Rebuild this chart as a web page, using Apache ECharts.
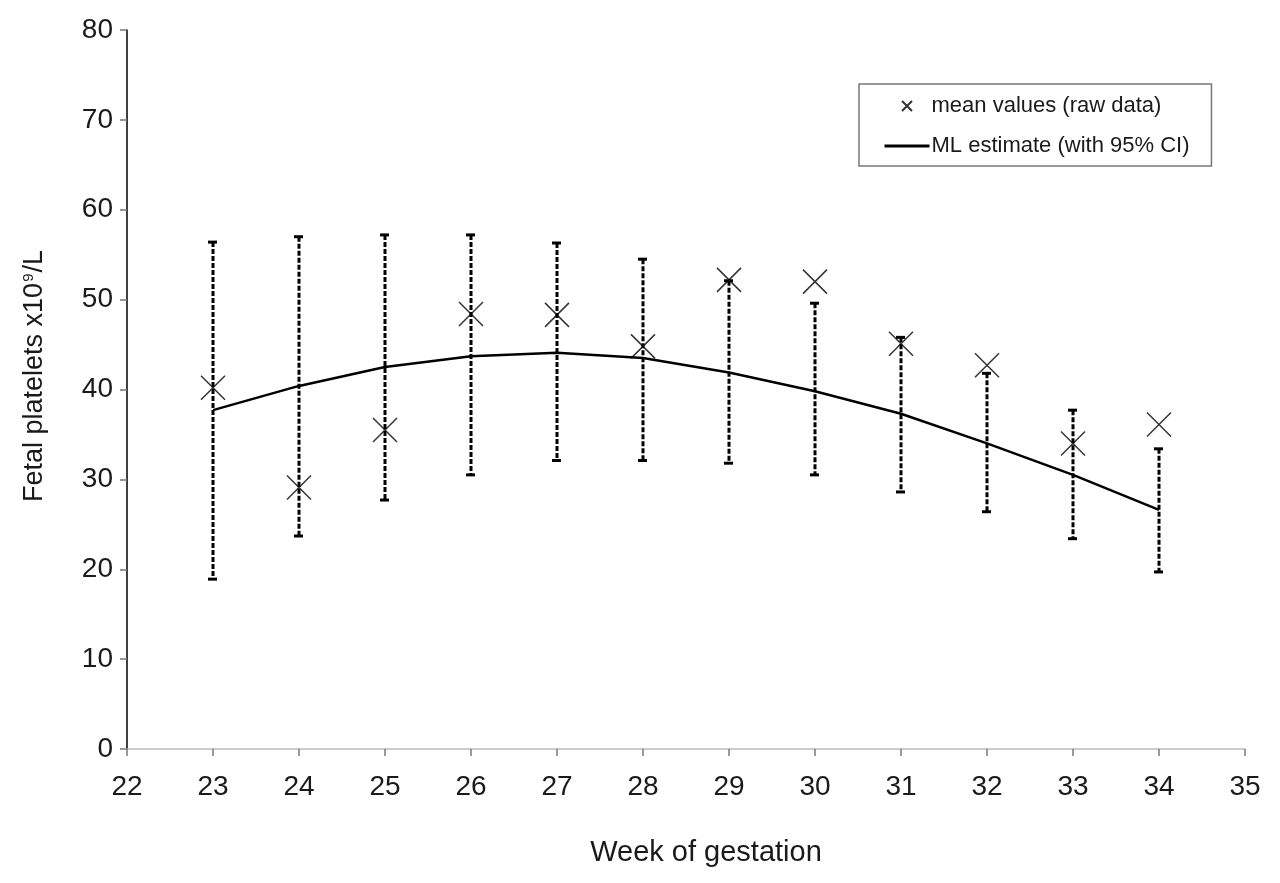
<!DOCTYPE html>
<html>
<head>
<meta charset="utf-8">
<script src="https://cdn.jsdelivr.net/npm/echarts@6/dist/echarts.min.js"></script>
<style>
  html, body { margin: 0; padding: 0; background: #fff; }
  #chart { width: 1280px; height: 883px; }
</style>
</head>
<body>
<div id="chart"></div>
<script>
// ---- data ----
const weeks = [23, 24, 25, 26, 27, 28, 29, 30, 31, 32, 33, 34];
const meanValues = [40.2, 29.1, 35.5, 48.4, 48.3, 44.8, 52.2, 52.0, 45.1, 42.7, 34.0, 36.1];
const mlEstimate = [37.7, 40.4, 42.5, 43.7, 44.1, 43.5, 41.9, 39.8, 37.3, 34.0, 30.5, 26.6];
const ciLower = [18.9, 23.7, 27.7, 30.5, 32.1, 32.1, 31.8, 30.5, 28.6, 26.4, 23.4, 19.7];
const ciUpper = [56.4, 57.0, 57.2, 57.2, 56.3, 54.5, 52.1, 49.6, 45.8, 41.8, 37.7, 33.4];
const xTicks = { min: 22, max: 35, interval: 1 };
const yTicks = { min: 0, max: 80, interval: 10 };
const seriesNames = ['mean values (raw data)', 'ML estimate (with 95% CI)'];
const xTitle = 'Week of gestation';

const FONT = '"Liberation Sans", Arial, sans-serif';
const crossPath = 'path://M0,0L10,10M10,0L0,10';

const chart = echarts.init(document.getElementById('chart'));

const errData = weeks.map((w, i) => [w, ciLower[i], ciUpper[i]]);
const meanData = weeks.map((w, i) => [w, meanValues[i]]);
const mlData = weeks.map((w, i) => [w, mlEstimate[i]]);

function renderErr(params, api) {
  const x = api.value(0);
  const lo = api.value(1);
  const hi = api.value(2);
  const pt = api.coord([x, hi]);
  const pb = api.coord([x, lo]);
  const st = { stroke: '#000', lineWidth: 3, fill: 'none' };
  return {
    type: 'group',
    children: [
      { type: 'line', shape: { x1: pt[0], y1: pt[1], x2: pb[0], y2: pb[1] },
        style: Object.assign({}, st, { lineDash: [5, 2] }) },
      { type: 'line', shape: { x1: pt[0] - 5, y1: pt[1], x2: pt[0] + 4, y2: pt[1] }, style: st },
      { type: 'line', shape: { x1: pb[0] - 5, y1: pb[1], x2: pb[0] + 4, y2: pb[1] }, style: st }
    ]
  };
}

const option = {
  backgroundColor: '#fff',
  animation: false,
  textStyle: { fontFamily: FONT },
  grid: { left: 127, right: 35, top: 30, bottom: 134, containLabel: false },
  xAxis: {
    type: 'value',
    min: xTicks.min, max: xTicks.max, interval: xTicks.interval,
    axisLine: { show: true, onZero: false, lineStyle: { color: '#bbbbbb', width: 1.5 } },
    axisTick: { show: true, inside: false, length: 7, lineStyle: { color: '#777', width: 1.5 } },
    axisLabel: { color: '#1a1a1a', fontSize: 28, margin: 24, fontFamily: FONT },
    splitLine: { show: false }
  },
  yAxis: {
    type: 'value',
    min: yTicks.min, max: yTicks.max, interval: yTicks.interval,
    axisLine: { show: true, lineStyle: { color: '#000', width: 1.5 } },
    axisTick: { show: true, inside: false, length: 7, lineStyle: { color: '#777', width: 1.5 } },
    axisLabel: { color: '#1a1a1a', fontSize: 28, margin: 14, fontFamily: FONT },
    splitLine: { show: false }
  },
  legend: {
    orient: 'vertical',
    left: 859, top: 84,
    padding: [11, 22, 9, 24],
    itemGap: 18,
    itemWidth: 45,
    itemHeight: 10,
    borderColor: '#777',
    borderWidth: 1.5,
    borderRadius: 0,
    backgroundColor: '#fff',
    selectedMode: false,
    textStyle: { color: '#1a1a1a', fontSize: 22, fontFamily: FONT, padding: [0, 0, 0, -3] },
    data: [
      { name: seriesNames[0], icon: crossPath,
        itemStyle: { color: 'none', borderColor: '#000', borderWidth: 2 } },
      { name: seriesNames[1], itemStyle: { opacity: 0 }, lineStyle: { color: '#000', width: 3 } }
    ]
  },
  series: [
    {
      name: 'CI',
      type: 'custom',
      renderItem: renderErr,
      encode: { x: 0, y: [1, 2] },
      data: errData,
      z: 2,
      silent: true
    },
    {
      name: seriesNames[1],
      type: 'line',
      data: mlData,
      symbol: 'none',
      showSymbol: false,
      smooth: false,
      lineStyle: { color: '#000', width: 2.5 },
      itemStyle: { color: '#000' },
      z: 3
    },
    {
      name: seriesNames[0],
      type: 'scatter',
      data: meanData,
      symbol: crossPath,
      symbolSize: 24,
      itemStyle: { color: 'none', borderColor: '#000', borderWidth: 1.5 },
      z: 4
    }
  ],
  graphic: [
    {
      type: 'text',
      x: 706, y: 853,
      style: {
        text: xTitle,
        font: '29px ' + FONT,
        fill: '#1a1a1a',
        align: 'center',
        verticalAlign: 'middle'
      }
    },
    {
      type: 'text',
      x: 35, y: 376,
      rotation: Math.PI / 2,
      style: {
        text: '{a|Fetal platelets x10}{s|9}{a|/L}',
        align: 'center',
        verticalAlign: 'middle',
        fill: '#1a1a1a',
        rich: {
          a: { fontSize: 27, fontFamily: FONT, fill: '#1a1a1a', color: '#1a1a1a', verticalAlign: 'bottom' },
          s: { fontSize: 15, fontFamily: FONT, fill: '#1a1a1a', color: '#1a1a1a', verticalAlign: 'top', padding: [0, 1, 10, 1] }
        }
      }
    }
  ]
};

chart.setOption(option);
</script>
</body>
</html>
